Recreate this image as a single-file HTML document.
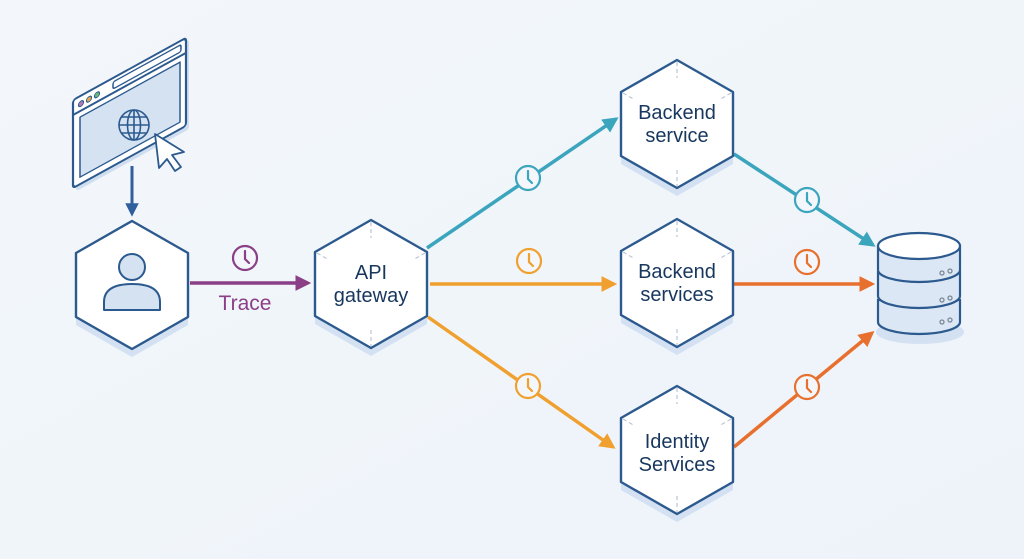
<!DOCTYPE html>
<html><head><meta charset="utf-8"><style>
html,body{margin:0;padding:0;background:#f1f6fb;}
svg{display:block;}
text{font-family:"Liberation Sans",sans-serif;}
</style></head><body>
<svg width="1024" height="559" viewBox="0 0 1024 559" xmlns="http://www.w3.org/2000/svg">
<defs>
<linearGradient id="bg" x1="0" y1="0" x2="1" y2="1"><stop offset="0" stop-color="#f3f7fb"/><stop offset="1" stop-color="#edf3f9"/></linearGradient>
<marker id="mb" viewBox="0 0 10 10" refX="8" refY="5" markerWidth="4.5" markerHeight="4.5" orient="auto"><path d="M0,0L10,5L0,10z" fill="#2f5f9f"/></marker>
<marker id="mp" viewBox="0 0 10 10" refX="8" refY="5" markerWidth="4.5" markerHeight="4.5" orient="auto"><path d="M0,0L10,5L0,10z" fill="#8a3f86"/></marker>
<marker id="mt" viewBox="0 0 10 10" refX="8" refY="5" markerWidth="4.5" markerHeight="4.5" orient="auto"><path d="M0,0L10,5L0,10z" fill="#3ba5bd"/></marker>
<marker id="mo" viewBox="0 0 10 10" refX="8" refY="5" markerWidth="4.5" markerHeight="4.5" orient="auto"><path d="M0,0L10,5L0,10z" fill="#f0a02e"/></marker>
<marker id="mr" viewBox="0 0 10 10" refX="8" refY="5" markerWidth="4.5" markerHeight="4.5" orient="auto"><path d="M0,0L10,5L0,10z" fill="#e8702e"/></marker>
<g id="clk"><circle r="12" fill="#f3f7fb" stroke="currentColor" stroke-width="2.2"/><path d="M0,-7V1L4,5" fill="none" stroke="currentColor" stroke-width="2.2" stroke-linecap="round"/></g>
<g id="hex">
<path d="M0,-56L56,-26V40L0,72L-56,40V-26z" fill="#d3e1f2"/>
<path d="M0,-64L56,-32V32L0,64L-56,32V-32z" fill="#fff" stroke="#2c5a8e" stroke-width="2.4" stroke-linejoin="round"/>
</g>
<g id="hexd">
<use href="#hex"/>
<path d="M0,-62V-46M0,46V62M-54,-31L-42,-24M54,-31L42,-24" stroke="#b9c6d6" stroke-width="1.2" stroke-dasharray="4 3"/>
</g>
</defs>
<rect width="1024" height="559" fill="url(#bg)"/>

<!-- browser -->
<g transform="matrix(1,-0.55,0,1,73,100)" stroke="#2c5a8e" stroke-width="2.2" stroke-linejoin="round">
<rect x="3" y="3" width="113" height="90" rx="3" fill="#cfdff0" stroke="none"/>
<rect x="0" y="0" width="113" height="88" rx="3" fill="#fff"/>
<path d="M0,15H113" fill="none"/>
<rect x="40" y="4" width="68" height="7" rx="2" fill="#fff" stroke-width="1.5"/>
<rect x="7" y="21" width="100" height="60" fill="#d4e2f2" stroke-width="1.5"/>
<circle cx="8" cy="8" r="2.6" fill="#b777b3" stroke-width="1"/>
<circle cx="16" cy="8" r="2.6" fill="#e6a64a" stroke-width="1"/>
<circle cx="24" cy="8" r="2.6" fill="#6ab77a" stroke-width="1"/>
</g>
<g stroke="#2c5a8e" stroke-width="1.6" fill="none">
<circle cx="134" cy="125" r="15" fill="#d4e2f2"/>
<ellipse cx="134" cy="125" rx="6.5" ry="15"/>
<path d="M119,125H149M121,117H147M121,133H147M134,110V140"/>
</g>
<path d="M155,134L184,152L172,155L181,167L175,171L167,159L159,168z" fill="#fff" stroke="#2c5a8e" stroke-width="1.8" stroke-linejoin="round"/>

<!-- browser arrow -->
<line x1="132" y1="166" x2="132" y2="214" stroke="#2f5f9f" stroke-width="3" marker-end="url(#mb)"/>

<!-- connectors -->
<line x1="190" y1="283" x2="308" y2="283" stroke="#8a3f86" stroke-width="3.5" marker-end="url(#mp)"/>
<use href="#clk" x="245" y="258" style="color:#8a3f86"/>
<text x="245" y="310" text-anchor="middle" font-size="21" fill="#8a3f86">Trace</text>

<line x1="427" y1="248" x2="616" y2="119" stroke="#3ba5bd" stroke-width="3.5" marker-end="url(#mt)"/>
<use href="#clk" x="528" y="178" style="color:#3ba5bd"/>
<line x1="430" y1="284" x2="614" y2="284" stroke="#f0a02e" stroke-width="3.5" marker-end="url(#mo)"/>
<use href="#clk" x="529" y="261" style="color:#f0a02e"/>
<line x1="428" y1="317" x2="613" y2="447" stroke="#f0a02e" stroke-width="3.5" marker-end="url(#mo)"/>
<use href="#clk" x="528" y="386" style="color:#f0a02e"/>

<line x1="734" y1="154" x2="873" y2="245" stroke="#3ba5bd" stroke-width="3.5" marker-end="url(#mt)"/>
<use href="#clk" x="807" y="200" style="color:#3ba5bd"/>
<line x1="734" y1="284" x2="872" y2="284" stroke="#e8702e" stroke-width="3.5" marker-end="url(#mr)"/>
<use href="#clk" x="807" y="262" style="color:#e8702e"/>
<line x1="734" y1="447" x2="872" y2="333" stroke="#e8702e" stroke-width="3.5" marker-end="url(#mr)"/>
<use href="#clk" x="807" y="387" style="color:#e8702e"/>

<!-- hexes -->
<use href="#hex" x="132" y="285"/>
<g stroke="#2c5a8e" stroke-width="2" fill="#d4e2f2">
<circle cx="132" cy="267" r="13"/>
<path d="M104,310V302Q104,284 132,284Q160,284 160,302V310z" stroke-linejoin="round"/>
</g>
<use href="#hexd" x="371" y="284"/>
<text x="371" y="279" text-anchor="middle" font-size="20" fill="#17375e">API</text>
<text x="371" y="302" text-anchor="middle" font-size="20" fill="#17375e">gateway</text>
<use href="#hexd" x="677" y="124"/>
<text x="677" y="119" text-anchor="middle" font-size="20" fill="#17375e">Backend</text>
<text x="677" y="142" text-anchor="middle" font-size="20" fill="#17375e">service</text>
<use href="#hexd" x="677" y="283"/>
<text x="677" y="278" text-anchor="middle" font-size="20" fill="#17375e">Backend</text>
<text x="677" y="301" text-anchor="middle" font-size="20" fill="#17375e">services</text>
<use href="#hexd" x="677" y="450"/>
<text x="677" y="448" text-anchor="middle" font-size="20" fill="#17375e">Identity</text>
<text x="677" y="471" text-anchor="middle" font-size="20" fill="#17375e">Services</text>

<!-- database -->
<ellipse cx="920" cy="332" rx="44" ry="12" fill="#d3e1f2"/>
<g stroke="#2c5a8e" stroke-width="2.2" fill="#dbe7f4">
<path d="M878,300V322A41,12 0 0 0 960,322V300z"/>
<path d="M878,272V296A41,12 0 0 0 960,296V272z"/>
<path d="M878,246V270A41,12 0 0 0 960,270V246z"/>
<ellipse cx="919" cy="246" rx="41" ry="13" fill="#fff"/>
</g>
<g fill="none" stroke="#7a8796" stroke-width="1.3">
<circle cx="942" cy="273" r="2"/><circle cx="950" cy="271" r="2"/>
<circle cx="942" cy="300" r="2"/><circle cx="950" cy="298" r="2"/>
<circle cx="942" cy="322" r="2"/><circle cx="950" cy="320" r="2"/>
</g>
</svg>
</body></html>
